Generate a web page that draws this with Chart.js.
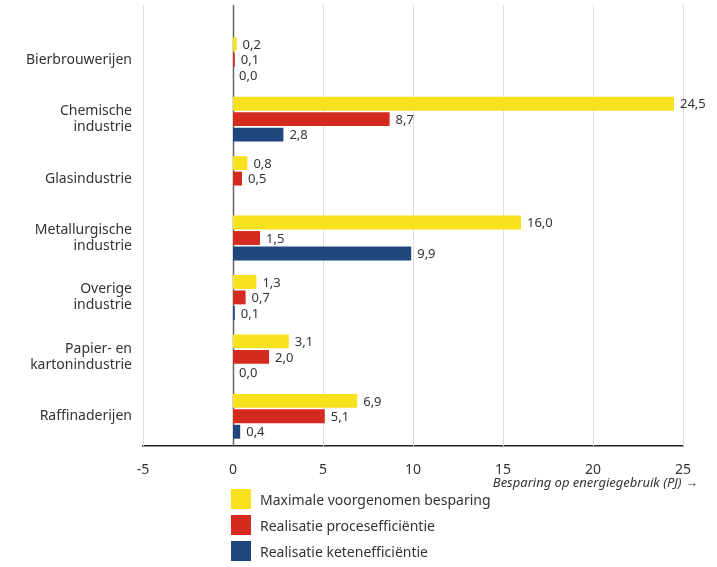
<!DOCTYPE html>
<html>
<head>
<meta charset="utf-8">
<script src="https://cdn.jsdelivr.net/npm/chart.js@4.4.1/dist/chart.umd.min.js"></script>
<style>
  html, body { margin: 0; padding: 0; background: #fff; }
  #wrap { position: relative; width: 717px; height: 567px; }
  #legend { position: absolute; left: 231px; top: 489px; font-family: "Noto Sans", sans-serif; font-size: 14px; color: #333; }
  #legend .item { display: flex; align-items: center; height: 20px; margin-bottom: 6px; }
  #legend .box { width: 20px; height: 20px; margin-right: 9px; }
</style>
</head>
<body>
<div id="wrap">
  <canvas id="chart" width="717" height="567"></canvas>
  <div id="legend"></div>
</div>
<script>
"use strict";

var categories = [
    'Bierbrouwerijen',
    ['Chemische', 'industrie'],
    'Glasindustrie',
    ['Metallurgische', 'industrie'],
    ['Overige', 'industrie'],
    ['Papier- en', 'kartonindustrie'],
    'Raffinaderijen',
];
var seriesNames = [
    'Maximale voorgenomen besparing',
    'Realisatie procesefficiëntie',
    'Realisatie ketenefficiëntie',
];
var seriesColors = ['#f9e11e', '#d52b1e', '#1f477d'];
var maxBesparing = [0.2, 24.5, 0.8, 16.0, 1.3, 3.1, 6.9];
var procesEff = [0.1, 8.7, 0.5, 1.5, 0.7, 2.0, 5.1];
var ketenEff = [0.0, 2.8, null, 9.9, 0.1, 0.0, 0.4];
var xTicks = [-5, 0, 5, 10, 15, 20, 25];
var xTitle = 'Besparing op energiegebruik (PJ) \u2192';

var FONT = '"Noto Sans", sans-serif';
var TEXT = '#333333';

function fmt(v) {
    return v.toFixed(1).replace('.', ',');
}

// grid lines reach higher than the category area
var gridPlugin = {
    id: 'grid',
    beforeDatasetsDraw: function (chart) {
        var ctx = chart.ctx;
        var x = chart.scales.x;
        var bottom = chart.chartArea.bottom;
        ctx.save();
        xTicks.forEach(function (t) {
            var px = Math.round(x.getPixelForValue(t)) + 0.5;
            ctx.beginPath();
            ctx.strokeStyle = t === 0 ? '#666666' : '#dddddd';
            ctx.lineWidth = t === 0 ? 1.5 : 1;
            ctx.moveTo(px, 5);
            ctx.lineTo(px, bottom);
            ctx.stroke();
        });
        ctx.restore();
    },
};

var labelPlugin = {
    id: 'valueLabels',
    afterDatasetsDraw: function (chart) {
        var ctx = chart.ctx;
        ctx.save();
        ctx.font = '13px ' + FONT;
        ctx.fillStyle = TEXT;
        ctx.textAlign = 'left';
        ctx.textBaseline = 'middle';
        chart.data.datasets.forEach(function (ds, i) {
            var meta = chart.getDatasetMeta(i);
            meta.data.forEach(function (bar, j) {
                var v = ds.data[j];
                if (v === null || v === undefined) return;
                ctx.fillText(fmt(v), bar.x + 6, bar.y + 1);
            });
        });
        // axis title, right aligned past the last tick
        ctx.font = 'italic 13px ' + FONT;
        ctx.textAlign = 'right';
        ctx.fillText(xTitle, 698, 483);
        ctx.restore();
    },
};

var datasets = [maxBesparing, procesEff, ketenEff].map(function (values, i) {
    return {
        label: seriesNames[i],
        data: values,
        backgroundColor: seriesColors[i],
        borderWidth: 0,
        categoryPercentage: 0.78,
        barPercentage: 0.9,
    };
});

new Chart(document.getElementById('chart'), {
    type: 'bar',
    data: {
        labels: categories,
        datasets: datasets,
    },
    options: {
        indexAxis: 'y',
        responsive: false,
        animation: false,
        layout: {
            padding: { top: 30, right: 34, bottom: 91, left: 0 },
        },
        plugins: {
            legend: { display: false },
            tooltip: { enabled: false },
        },
        scales: {
            x: {
                type: 'linear',
                min: -5,
                max: 25,
                afterBuildTicks: function (scale) {
                    scale.ticks = xTicks.map(function (v) { return { value: v }; });
                },
                afterFit: function (scale) {
                    scale.height = 30;
                },
                grid: { display: false },
                border: { display: true, color: '#222222', width: 1.5 },
                ticks: {
                    color: TEXT,
                    font: { family: FONT, size: 14 },
                    padding: 8,
                    callback: function (v) { return String(v); },
                },
            },
            y: {
                afterFit: function (scale) {
                    scale.width = 143;
                },
                grid: { display: false },
                border: { display: false },
                ticks: {
                    color: TEXT,
                    font: { family: FONT, size: 14, lineHeight: 1.15 },
                    padding: 3,
                },
            },
        },
    },
    plugins: [gridPlugin, labelPlugin],
});

var legend = document.getElementById('legend');
seriesNames.forEach(function (name, i) {
    var item = document.createElement('div');
    item.className = 'item';
    var box = document.createElement('span');
    box.className = 'box';
    box.style.background = seriesColors[i];
    var txt = document.createElement('span');
    txt.textContent = name;
    item.appendChild(box);
    item.appendChild(txt);
    legend.appendChild(item);
});
</script>
</body>
</html>
